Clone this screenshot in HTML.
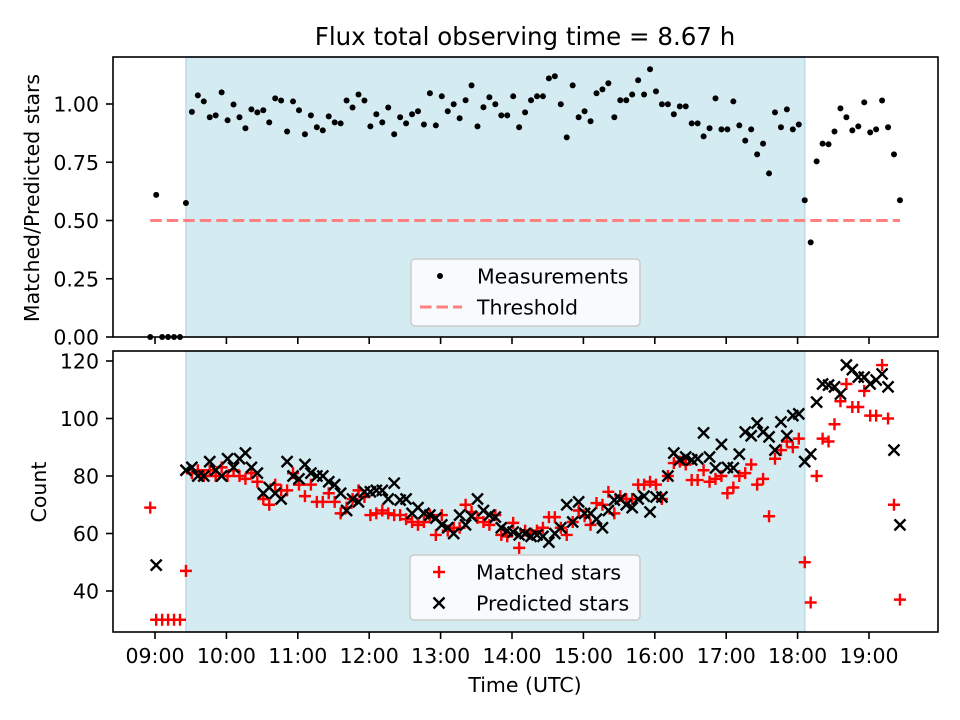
<!DOCTYPE html>
<html><head><meta charset="utf-8"><style>
body{margin:0;background:#fff;}
svg{display:block;font-family:"DejaVu Sans","Liberation Sans",sans-serif;}
</style></head><body>
<svg id="chart" width="960" height="720" viewBox="0 0 960 720"></svg>
<script>
const times = ["08:56",
"09:01","09:06","09:11","09:16","09:21","09:26","09:31","09:36","09:41","09:46","09:51","09:56",
"10:01","10:06","10:11","10:16","10:21","10:26","10:31","10:36","10:41","10:46","10:51","10:56",
"11:01","11:06","11:11","11:16","11:21","11:26","11:31","11:36","11:41","11:46","11:51","11:56",
"12:01","12:06","12:11","12:16","12:21","12:26","12:31","12:36","12:41","12:46","12:51","12:56",
"13:01","13:06","13:11","13:16","13:21","13:26","13:31","13:36","13:41","13:46","13:51","13:56",
"14:01","14:06","14:11","14:16","14:21","14:26","14:31","14:36","14:41","14:46","14:51","14:56",
"15:01","15:06","15:11","15:16","15:21","15:26","15:31","15:36","15:41","15:46","15:51","15:56",
"16:01","16:06","16:11","16:16","16:21","16:26","16:31","16:36","16:41","16:46","16:51","16:56",
"17:01","17:06","17:11","17:16","17:21","17:26","17:31","17:36","17:41","17:46","17:51","17:56",
"18:01","18:06","18:11","18:16","18:21","18:26","18:31","18:36","18:41","18:46","18:51","18:56",
"19:01","19:06","19:11","19:16","19:21","19:26"];
const ratio = [0,0.61,0,0,0,0,0.575,
0.966,1.037,1.011,0.943,0.951,1.05,0.93,0.998,0.943,0.896,0.977,0.964,0.973,0.921,1.024,1.015,0.882,1.011,0.973,0.87,0.951,0.90,0.887,0.947,0.921,0.917,1.015,0.985,1.041,1.015,0.904,0.956,0.921,0.985,
0.87,0.943,0.917,0.956,0.969,0.912,1.046,0.908,1.033,0.969,0.999,0.939,1.016,1.08,0.904,0.986,1.029,0.999,0.951,0.951,1.033,0.90,0.964,1.016,1.033,1.033,1.11,1.119,0.999,0.857,1.08,0.943,0.969,0.926,1.046,1.063,1.089,0.943,1.016,1.016,1.041,1.102,1.041,1.149,1.054,0.999,0.999,
0.956,0.99,0.99,0.917,0.917,0.861,0.896,1.024,0.891,0.891,1.011,0.908,0.843,0.891,0.784,0.83,0.702,0.964,0.90,0.977,0.891,0.912,0.587,0.406,0.754,0.83,0.827,0.882,0.981,0.943,0.887,0.904,1.007,0.878,0.891,1.015,0.90,0.784,0.587];
const matched = [69,30,30,30,30,30,47,
81,82,80,82,80,83,80,82,80,79,81,78,72,70,77,75,75,81,77,73,77,71,71,74,71,67,
69,72,75,72.7,66.4,67,68,67,66.4,66.4,65,64,63,64,66.4,59.5,66.4,61,62,62,70,67.5,65.4,64,63,66.4,59.5,59,63.7,55,61,60,61,62,65.7,
65.7,62,59.5,64,68,66,63,70.6,70,74.5,67,73,72,72,77,77,78,77,72,80,84.5,85,84,78.6,78.6,82,78,79,80,74,76,80,81,84,77,79,66,86,89,92,90,93,50,36,80,93,92,98,106,112,104,104,109.6,101,101,118.6,100,70,37];
const predicted = [null,49,null,null,null,null,82,
83,80,80,85,82,80,86,83,86,88,83,81,74,76,74,72,85,80,79,84,81,80,80,78,77,74,
68,72,71,74.5,74.5,75,75,72,77.5,71.6,72,67,69,67,66.4,65.4,63,62,60,66.4,63,66,72,68,66.4,65.7,62,61,60.5,59.5,60,59,59.5,59,57,
60,62,70,64,71,67,67,65,62,68,71.6,72,70,69,72,73,67.5,72.7,72.7,80,88,85.6,86.6,85.6,86,95,86.6,82.8,91,83,82.8,87.6,95.3,94,98.4,95.3,93.6,89,98.8,94,101,101.6,85,87.6,105.7,112,111.6,111,108.5,118.6,117,114.4,114.4,112,113.4,115.5,111,89,63];
const xTickLabels = ["09:00","10:00","11:00","12:00","13:00","14:00","15:00","16:00","17:00","18:00","19:00"];
const topTicks = [0,0.25,0.5,0.75,1.0];
const topTickLabels = ["0.00","0.25","0.50","0.75","1.00"];
const botTicks = [40,60,80,100,120];
const threshold = 0.5;
const spanStart = "09:26", spanEnd = "18:06";

const NS="http://www.w3.org/2000/svg";
const svg=document.getElementById('chart');
function el(tag,attrs,parent){const e=document.createElementNS(NS,tag);for(const k in attrs)e.setAttribute(k,attrs[k]);(parent||svg).appendChild(e);return e;}
function hours(s){const p=s.split(':');return +p[0]+(+p[1])/60;}
const L=113,R=938;
function X(h){return 155+(h-9)*71.4;}
function Yt(v){return 337-233*v;}
function Yb(v){return 361+(120-v)*2.875;}
const panels=[{top:57,bot:337},{top:351,bot:632}];
const FS=20.5;

panels.forEach((p,pi)=>{
  const s=el('rect',{x:X(hours(spanStart)),y:p.top,width:X(hours(spanEnd))-X(hours(spanStart)),height:p.bot-p.top,fill:'#d5ebf2',stroke:'#bcdbe5','stroke-width':1.5});
  
  
});
const th=el('line',{x1:X(hours(times[0])),x2:X(hours(times[times.length-1])),y1:Yt(threshold),y2:Yt(threshold),stroke:'#ff8080','stroke-width':3,'stroke-dasharray':'11.5,5'});


const gTop=el('g',{});


times.forEach((t,i)=>{const c=el('circle',{cx:X(hours(t)),cy:Yt(ratio[i]),r:3,fill:'#000'},gTop);
  
  });
const gM=el('g',{stroke:'#ff0000','stroke-width':2.4});


const gP=el('g',{stroke:'#000','stroke-width':2.4});


const d=6;
times.forEach((t,i)=>{
  const x=X(hours(t));
  if(matched[i]!=null){const y=Yb(matched[i]);
    const m=el('path',{d:`M${x-d} ${y}H${x+d}M${x} ${y-d}V${y+d}`},gM);
    
    }
  if(predicted[i]!=null){const y=Yb(predicted[i]);const e=5.5;
    const m=el('path',{d:`M${x-e} ${y-e}L${x+e} ${y+e}M${x-e} ${y+e}L${x+e} ${y-e}`},gP);
    
    }
});
panels.forEach((p,pi)=>{const f=el('rect',{x:L,y:p.top,width:R-L,height:p.bot-p.top,fill:'none',stroke:'#000','stroke-width':1.6});
  
  });
xTickLabels.forEach((lab,i)=>{const x=X(hours(lab));
  panels.forEach(p=>{el('line',{x1:x,x2:x,y1:p.bot,y2:p.bot+7,stroke:'#000','stroke-width':1.6});});
  const tx=el('text',{x:x,y:663,'text-anchor':'middle','font-size':FS,fill:'#000'});tx.textContent=lab;
  
  
});
topTicks.forEach((v,i)=>{const y=Yt(v);el('line',{x1:L-7,x2:L,y1:y,y2:y,stroke:'#000','stroke-width':1.6});
  const tx=el('text',{x:99,y:y+7.5,'text-anchor':'end','font-size':FS});tx.textContent=topTickLabels[i];
  
  });
botTicks.forEach(v=>{const y=Yb(v);el('line',{x1:L-7,x2:L,y1:y,y2:y,stroke:'#000','stroke-width':1.6});
  const tx=el('text',{x:99,y:y+7.5,'text-anchor':'end','font-size':FS});tx.textContent=v;
  
  });
</script>
<svg width="960" height="720" style="position:absolute;left:0;top:0;pointer-events:none" font-family="DejaVu Sans, Liberation Sans, sans-serif">
  <text x="525" y="45" text-anchor="middle" font-size="24.5">Flux total observing time = 8.67 h</text>
  <text x="0" y="0" transform="translate(39,198) rotate(-90)" text-anchor="middle" font-size="20.5">Matched/Predicted stars</text>
  <text x="0" y="0" transform="translate(46,492) rotate(-90)" text-anchor="middle" font-size="20.5">Count</text>
  <text x="525" y="692" text-anchor="middle" font-size="20.5">Time (UTC)</text>
  <g>
    <rect x="411" y="259" width="229" height="67" rx="4" fill="#fff" fill-opacity="0.8" stroke="#ccc" stroke-width="1.5"/>
    <circle cx="440" cy="276" r="3" fill="#000"/>
    <text x="477" y="283.5" font-size="20.5">Measurements</text>
    <line x1="420" x2="462" y1="307" y2="307" stroke="#ff8080" stroke-width="3" stroke-dasharray="11.5,5"/>
    <text x="477" y="314.5" font-size="20.5">Threshold</text>
  </g>
  <g>
    <rect x="410" y="555" width="230" height="65" rx="4" fill="#fff" fill-opacity="0.8" stroke="#ccc" stroke-width="1.5"/>
    <path d="M433 572H445M439 566V578" stroke="#f00" stroke-width="2.4"/>
    <text x="476" y="579.5" font-size="20.5">Matched stars</text>
    <path d="M433.5 597.5L444.5 608.5M433.5 608.5L444.5 597.5" stroke="#000" stroke-width="2.4"/>
    <text x="476" y="610.5" font-size="20.5">Predicted stars</text>
  </g>
</svg>
</body></html>
